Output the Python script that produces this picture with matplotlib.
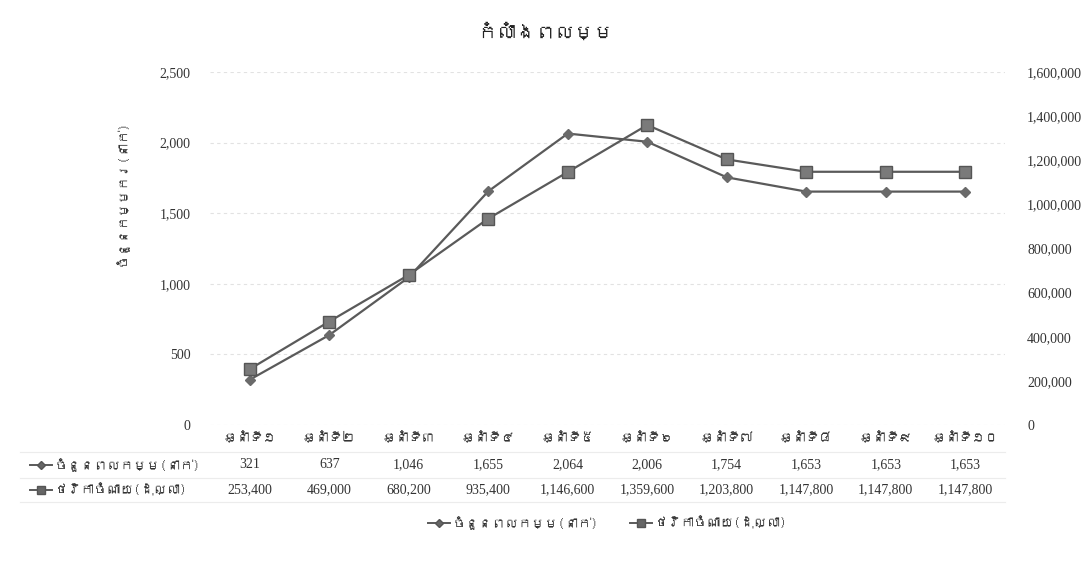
import matplotlib
matplotlib.use("Agg")
import matplotlib.pyplot as plt
from matplotlib import font_manager
from matplotlib.lines import Line2D

# ---- data ----
categories = ["ឆ្នាំទី១", "ឆ្នាំទី២", "ឆ្នាំទី៣", "ឆ្នាំទី៤", "ឆ្នាំទី៥",
              "ឆ្នាំទី៦", "ឆ្នាំទី៧", "ឆ្នាំទី៨", "ឆ្នាំទី៩", "ឆ្នាំទី១០"]
labour = [321, 637, 1046, 1655, 2064, 2006, 1754, 1653, 1653, 1653]
cost = [253400, 469000, 680200, 935400, 1146600, 1359600, 1203800,
        1147800, 1147800, 1147800]
series_labour = "ចំនួនពលកម្ម(នាក់)"
series_cost = "ថវិកាចំណាយ(ដុល្លា)"
title = "កំលាំងពលម្ម"
ylabel = "ចំនួនកម្មករ(នាក់)"
left_ticks = [0, 500, 1000, 1500, 2000, 2500]
right_ticks = [0, 200000, 400000, 600000, 800000, 1000000, 1200000, 1400000, 1600000]

# ---- find a Khmer-capable font if any ----
khmer_font = None
try:
    from fontTools.ttLib import TTFont
    for f in font_manager.fontManager.ttflist:
        try:
            tt = TTFont(f.fname, fontNumber=0, lazy=True)
            cmap = tt.getBestCmap()
            if cmap and 0x1780 in cmap and 0x17D2 in cmap:
                khmer_font = f.name
                break
        except Exception:
            pass
except Exception:
    pass

fams = ([khmer_font] if khmer_font else []) + ["DejaVu Sans"]
plt.rcParams['font.family'] = fams
numfam = ["Liberation Serif", "DejaVu Serif"]

W, H = 1090, 572
fig = plt.figure(figsize=(W / 100, H / 100), dpi=100)
fig.patch.set_facecolor("white")

def fx(px):
    return px / W

def fy(py):
    return 1 - py / H

ax_l, ax_r, ax_t, ax_b = 210, 1005, 72, 425
ax = fig.add_axes([fx(ax_l), fy(ax_b), fx(ax_r - ax_l), (ax_b - ax_t) / H])
ax2 = ax.twinx()

x = list(range(len(categories)))
lc = "#5a5a5a"
ax.plot(x, labour, color=lc, lw=1.6, marker="D", ms=5, mfc="#6a6a6a",
        mec="#6a6a6a", zorder=3)
ax2.plot(x, cost, color=lc, lw=1.6, marker="s", ms=8, mfc="#7a7a7a",
         mec="#555555", zorder=3)

ax.set_xlim(-0.5, len(categories) - 0.5)
ax.set_ylim(0, 2500)
ax2.set_ylim(0, 1600000)
ax.set_yticks(left_ticks)
ax2.set_yticks(right_ticks)
ax.set_yticklabels([f"{v:,}" for v in left_ticks], fontsize=10,
                   color="#333333", family=numfam)
ax2.set_yticklabels([f"{v:,}" for v in right_ticks], fontsize=10,
                    color="#333333", family=numfam)
ax.tick_params(axis="y", length=0, pad=14)
ax2.tick_params(axis="y", length=0, pad=16)
ax.set_xticks(x)
ax.set_xticklabels(categories, fontsize=9.5, color="#333333")
ax.tick_params(axis="x", length=0, pad=5)

for a in (ax, ax2):
    for s in a.spines.values():
        s.set_visible(False)
ax.grid(axis="y", color="#e2e2e2", lw=0.8, ls=(0, (3, 3)))
ax.set_axisbelow(True)

# data table rows
trans = ax.get_xaxis_transform()
row_y = [(ax_b - 465) / (ax_b - ax_t), (ax_b - 490) / (ax_b - ax_t)]
for i in x:
    ax.text(i, row_y[0], f"{labour[i]:,}", transform=trans, ha="center",
            va="center", fontsize=10, color="#333333", family=numfam)
    ax.text(i, row_y[1], f"{cost[i]:,}", transform=trans, ha="center",
            va="center", fontsize=10, color="#333333", family=numfam)

# row headers with legend keys
def key(px_x, px_y, marker, ms):
    fig.add_artist(Line2D([fx(px_x), fx(px_x + 22)], [fy(px_y), fy(px_y)],
                          color=lc, lw=1.4))
    fig.add_artist(Line2D([fx(px_x + 11)], [fy(px_y)], marker=marker, ms=ms,
                          color="#666666", mec="#555555"))

key(30, 465, "D", 4)
fig.text(fx(55), fy(465), series_labour, ha="left", va="center",
         fontsize=9.5, color="#333333")
key(30, 490, "s", 6)
fig.text(fx(55), fy(490), series_cost, ha="left", va="center",
         fontsize=9.5, color="#333333")

# faint table lines
for py in (452, 478, 502):
    fig.add_artist(Line2D([fx(20), fx(1005)], [fy(py), fy(py)],
                          color="#ececec", lw=0.8))

# bottom legend
key(428, 523, "D", 4)
fig.text(fx(453), fy(523), series_labour, ha="left", va="center",
         fontsize=9.5, color="#333333")
key(630, 523, "s", 6)
fig.text(fx(655), fy(523), series_cost, ha="left", va="center",
         fontsize=9.5, color="#333333")

fig.text(fx(545), fy(32), title, ha="center", va="center", fontsize=14,
         color="#222222")
fig.text(fx(122), fy(193), ylabel, ha="center", va="center", rotation=90,
         fontsize=9.5, color="#333333")

fig.savefig("out.png", dpi=100, facecolor="white")
